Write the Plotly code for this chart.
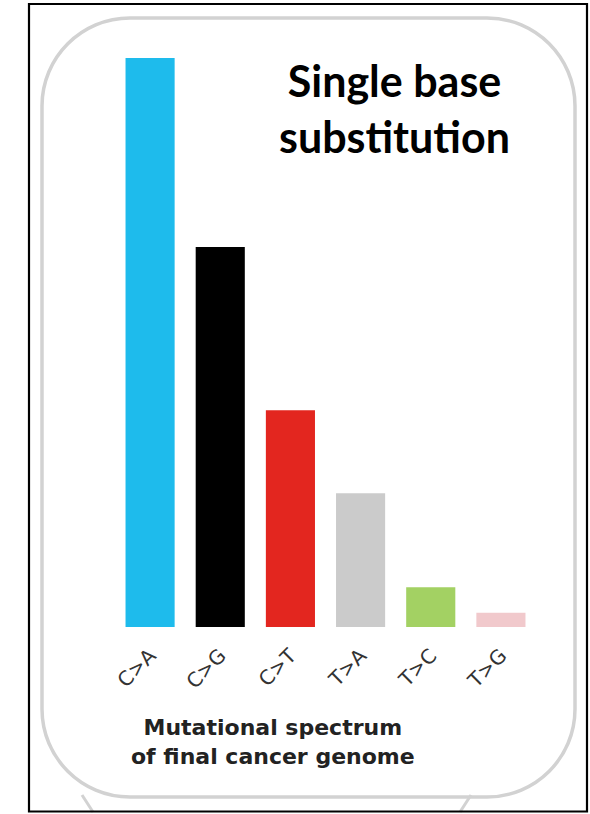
import plotly.graph_objects as go

categories = ["C>A", "C>G", "C>T", "T>A", "T>C", "T>G"]
values = [100, 66.8, 38.1, 23.5, 7.0, 2.5]
colors = ["#1EBBEC", "#000000", "#E3261F", "#CBCBCB", "#A3D163", "#F1C9CC"]
title_text = "Single base<br>substitution"
caption_text = "Mutational spectrum<br>of final cancer genome"

W, H = 590, 814
L, R, T, B = 115, 54, 58, 187
pw, ph = W - L - R, H - T - B

def px(x):
    return (x - L) / pw

def py(y):
    return (H - B - y) / ph

def rounded_path(x0, y0, x1, y1, r):
    k = 0.5523 * r
    pts = [
        ("M", [(x0 + r, y0)]),
        ("L", [(x1 - r, y0)]),
        ("C", [(x1 - r + k, y0), (x1, y0 + r - k), (x1, y0 + r)]),
        ("L", [(x1, y1 - r)]),
        ("C", [(x1, y1 - r + k), (x1 - r + k, y1), (x1 - r, y1)]),
        ("L", [(x0 + r, y1)]),
        ("C", [(x0 + r - k, y1), (x0, y1 - r + k), (x0, y1 - r)]),
        ("L", [(x0, y0 + r)]),
        ("C", [(x0, y0 + r - k), (x0 + r - k, y0), (x0 + r, y0)]),
    ]
    s = ""
    for cmd, ps in pts:
        s += cmd + " " + " ".join(f"{px(a):.5f},{py(b):.5f}" for a, b in ps) + " "
    return s + "Z"

fig = go.Figure(
    go.Bar(
        x=categories,
        y=values,
        marker=dict(color=colors, line=dict(width=0)),
        width=0.7,
    )
)

shapes = [
    dict(type="path", xref="paper", yref="paper",
         path=rounded_path(42, 18, 575, 797, 88),
         line=dict(color="#D2D2D2", width=3.5), layer="below"),
    dict(type="line", xref="paper", yref="paper",
         x0=px(82), y0=py(795), x1=px(93), y1=py(812),
         line=dict(color="#D2D2D2", width=3)),
    dict(type="line", xref="paper", yref="paper",
         x0=px(471), y0=py(795), x1=px(460), y1=py(812),
         line=dict(color="#D2D2D2", width=3)),
    dict(type="rect", xref="paper", yref="paper",
         x0=px(29), y0=py(4), x1=px(587), y1=py(811.5),
         line=dict(color="#000000", width=2.2)),
]

annotations = [
    dict(text="<b>" + title_text + "</b>", xref="paper", yref="paper",
         x=px(394), y=py(108), xanchor="center", yanchor="middle",
         showarrow=False, align="center",
         font=dict(family="Lato, Open Sans, sans-serif", size=43, color="#000000")),
    dict(text="<b>" + caption_text + "</b>", xref="paper", yref="paper",
         x=px(273), y=py(742), xanchor="center", yanchor="middle",
         showarrow=False, align="center",
         font=dict(family="DejaVu Sans, Verdana, sans-serif", size=22, color="#222222")),
]

fig.update_layout(
    width=W, height=H,
    margin=dict(l=L, r=R, t=T, b=B),
    paper_bgcolor="white", plot_bgcolor="white",
    showlegend=False,
    shapes=shapes,
    annotations=annotations,
    xaxis=dict(range=[-0.5, 5.5], showgrid=False, zeroline=False, showline=False,
               ticks="", tickangle=-45, ticklabelstandoff=12,
               tickfont=dict(family="DejaVu Sans, Verdana, sans-serif", size=20, color="#333333")),
    yaxis=dict(range=[0, 100], showgrid=False, zeroline=False, showline=False,
               showticklabels=False, ticks=""),
    bargap=0.3,
)

fig.write_html(
    "out.html",
    config={"displayModeBar": False},
    post_script="document.body.style.margin='0';document.body.style.overflow='hidden';",
)
